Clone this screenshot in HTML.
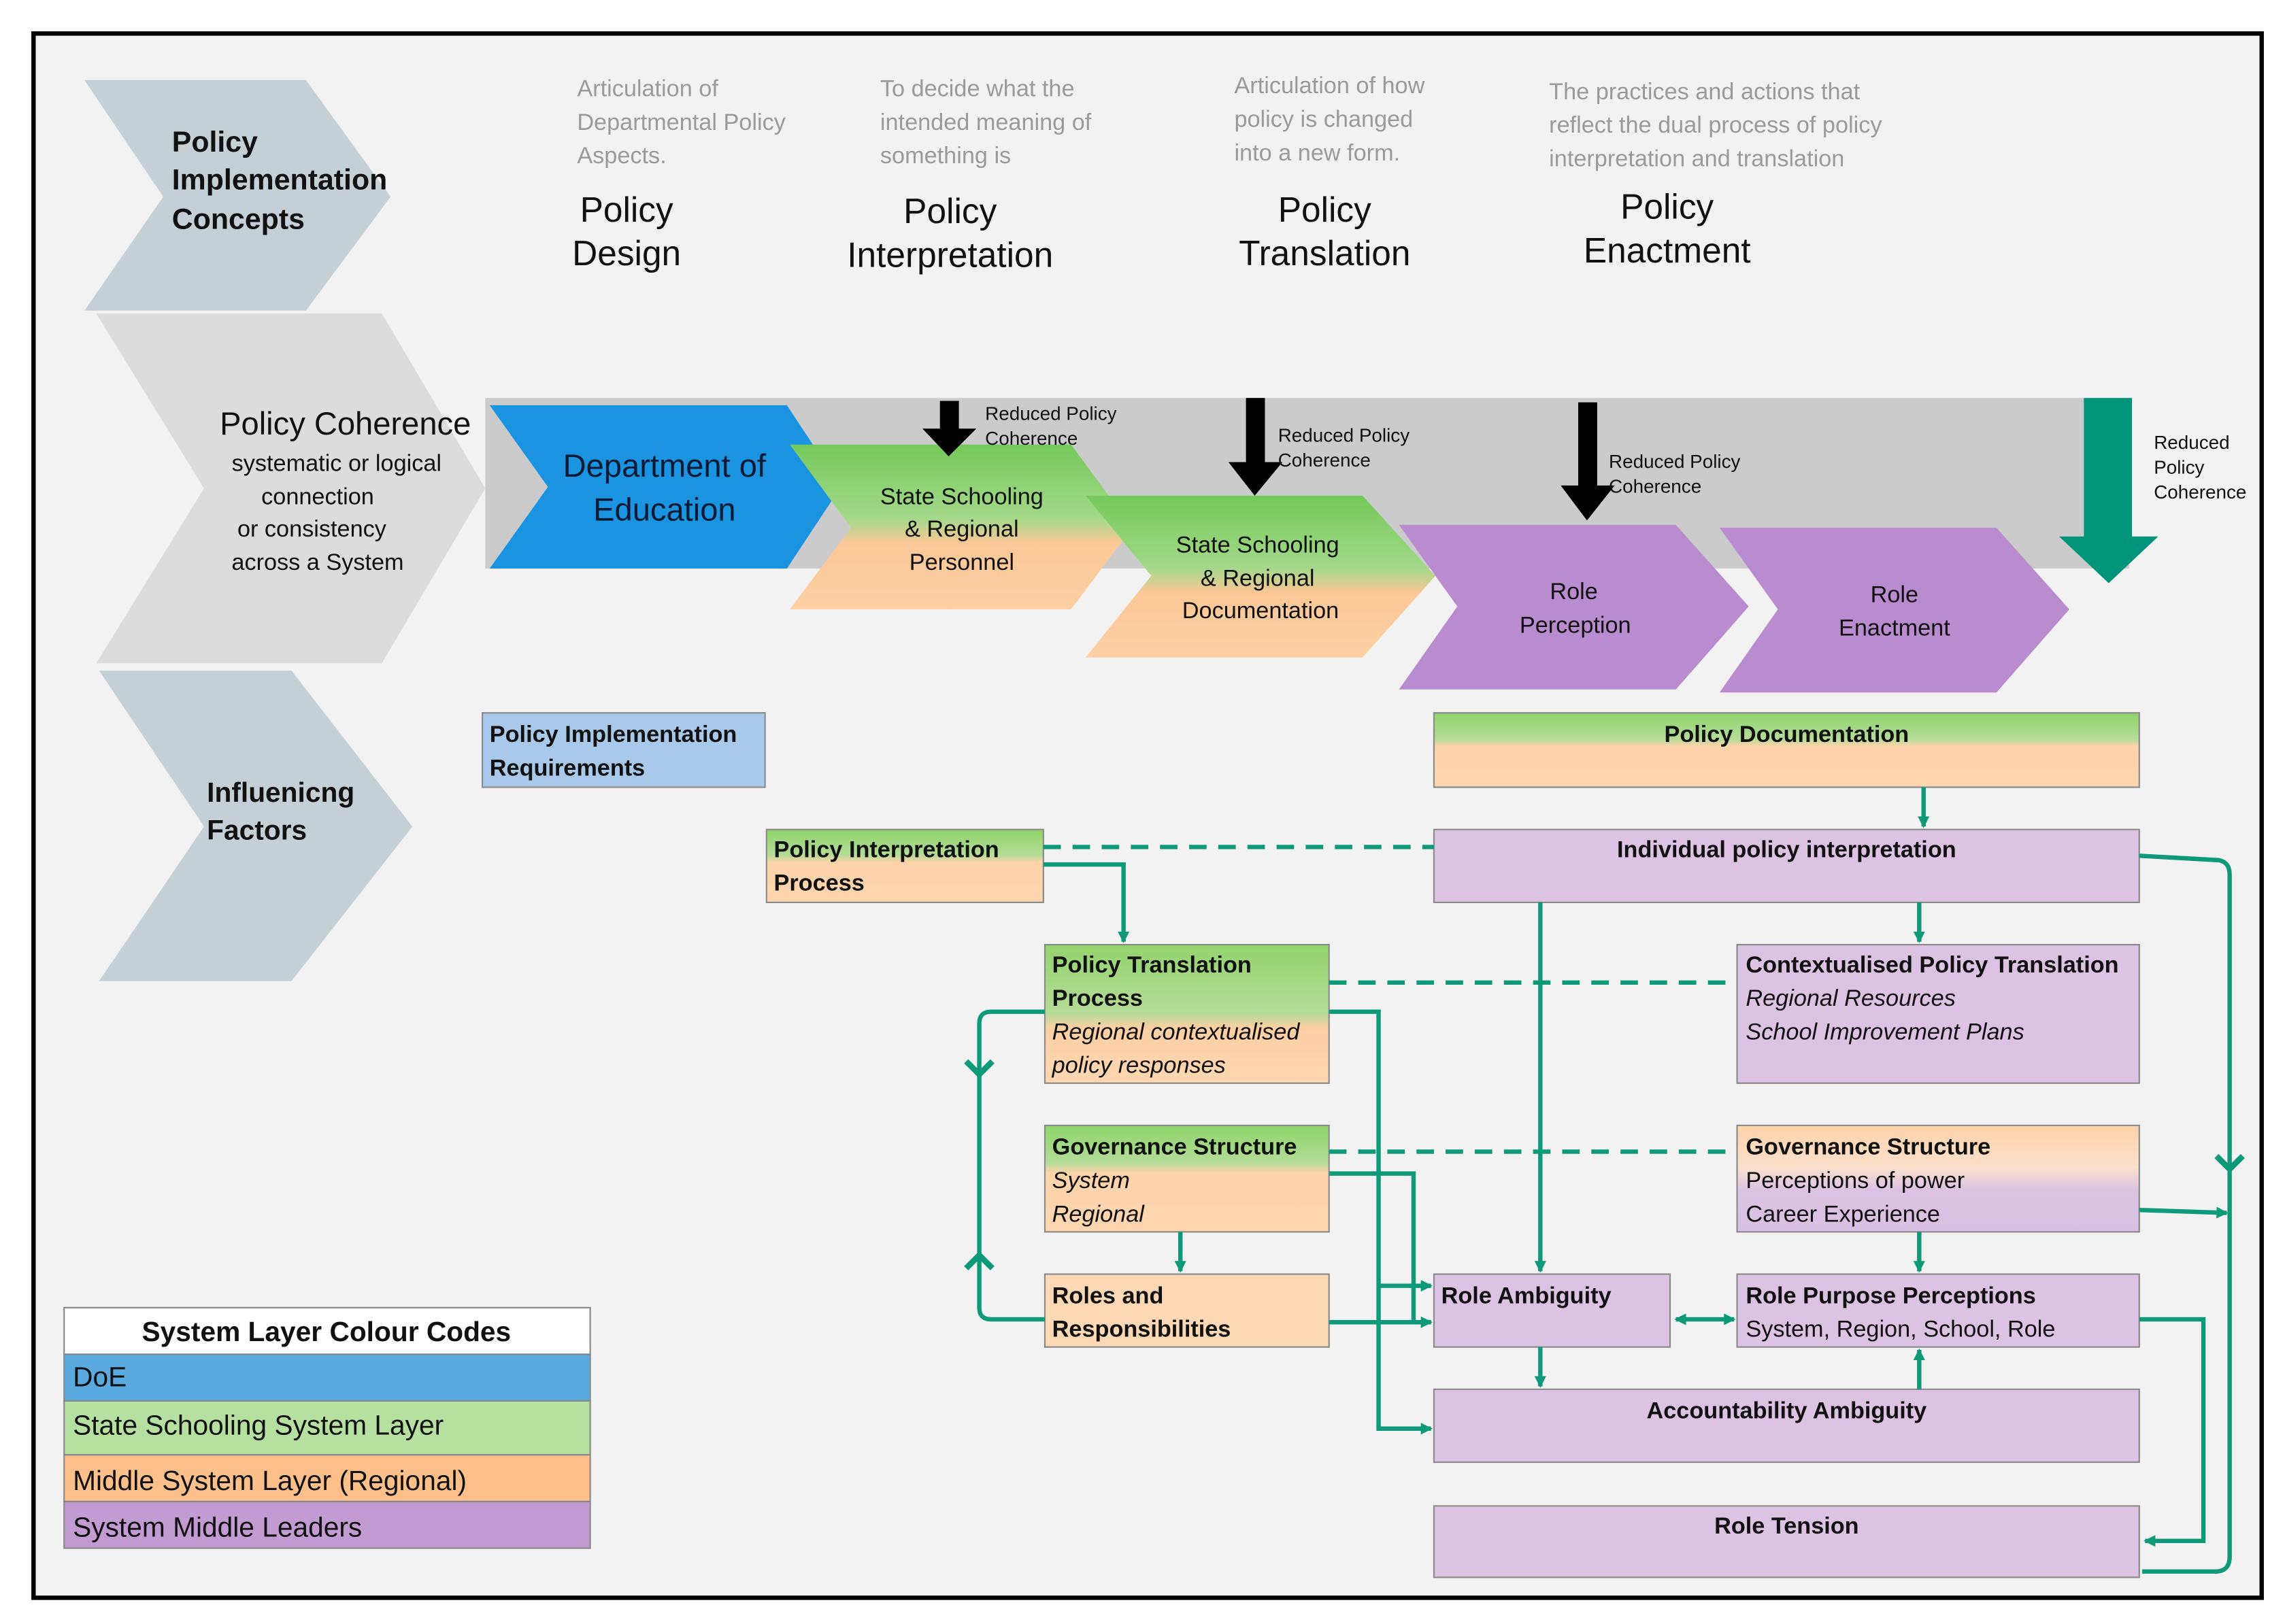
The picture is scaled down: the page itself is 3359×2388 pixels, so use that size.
<!DOCTYPE html>
<html><head><meta charset="utf-8"><style>
html,body{margin:0;padding:0;background:#fff}
svg{display:block}
text{font-family:"Liberation Sans",sans-serif}
</style></head><body>
<svg width="3359" height="2388" viewBox="0 0 1568 1114" preserveAspectRatio="none" xmlns="http://www.w3.org/2000/svg">
<defs>
<linearGradient id="go" x1="0" y1="0" x2="0" y2="1"><stop offset="0" stop-color="#93d36d"/><stop offset="0.5" stop-color="#b5dc98"/><stop offset="0.6" stop-color="#fdcfa4"/><stop offset="1" stop-color="#fdd7b2"/></linearGradient>
<linearGradient id="gob" x1="0" y1="0" x2="0" y2="1"><stop offset="0" stop-color="#8fd46a"/><stop offset="0.35" stop-color="#b3dc97"/><stop offset="0.45" stop-color="#fdd3aa"/><stop offset="1" stop-color="#fdd6b0"/></linearGradient>
<linearGradient id="gch" x1="0" y1="0" x2="0" y2="1"><stop offset="0" stop-color="#74c95a"/><stop offset="0.45" stop-color="#a4d98a"/><stop offset="0.6" stop-color="#fcc796"/><stop offset="1" stop-color="#fdd0a5"/></linearGradient>
<linearGradient id="op" x1="0" y1="0" x2="0" y2="1"><stop offset="0" stop-color="#fdd3aa"/><stop offset="0.4" stop-color="#fbe0cc"/><stop offset="0.6" stop-color="#dcc3e3"/><stop offset="1" stop-color="#d9bfe2"/></linearGradient>
<marker id="ar" markerWidth="8" markerHeight="8" refX="7" refY="4" orient="auto" markerUnits="userSpaceOnUse"><path d="M0,0 L8,4 L0,8 z" fill="#0e9a78"/></marker>
<marker id="as" markerWidth="8" markerHeight="8" refX="1" refY="4" orient="auto" markerUnits="userSpaceOnUse"><path d="M8,0 L0,4 L8,8 z" fill="#0e9a78"/></marker>
</defs>
<rect x="0" y="0" width="1568" height="1114" fill="#fff"/>
<rect x="23" y="23" width="1529" height="1073" fill="#f2f2f2" stroke="#000" stroke-width="3"/>

<!-- left chevrons -->
<polygon points="58,55 210,55 268,135 210,213 58,213 112,135" fill="#c5d0d6"/>
<text x="118" y="104" font-size="20" font-weight="bold" fill="#111">Policy</text>
<text x="118" y="130" font-size="20" font-weight="bold" fill="#111">Implementation</text>
<text x="118" y="157" font-size="20" font-weight="bold" fill="#111">Concepts</text>
<polygon points="66,215 262,215 333,335 262,455 66,455 140,335" fill="#dcdcdc"/>
<text x="237" y="298" font-size="22" text-anchor="middle" fill="#111">Policy Coherence</text>
<text x="231" y="323" font-size="16" text-anchor="middle" fill="#111">systematic or logical</text>
<text x="218" y="346" font-size="16" text-anchor="middle" fill="#111">connection</text>
<text x="214" y="368" font-size="16" text-anchor="middle" fill="#111">or consistency</text>
<text x="218" y="391" font-size="16" text-anchor="middle" fill="#111">across a System</text>
<polygon points="68,460 200,460 283,567 200,673 68,673 140,567" fill="#c5d0d6"/>
<text x="142" y="550" font-size="19" font-weight="bold" fill="#111">Influenicng</text>
<text x="142" y="576" font-size="19" font-weight="bold" fill="#111">Factors</text>

<!-- header columns -->
<g font-size="16" fill="#9a9a9a">
<text x="396" y="66">Articulation of</text><text x="396" y="89">Departmental Policy</text><text x="396" y="112">Aspects.</text>
<text x="604" y="66">To decide what the</text><text x="604" y="89">intended meaning of</text><text x="604" y="112">something is</text>
<text x="847" y="64">Articulation of how</text><text x="847" y="87">policy is changed</text><text x="847" y="110">into a new form.</text>
<text x="1063" y="68">The practices and actions that</text><text x="1063" y="91">reflect the dual process of policy</text><text x="1063" y="114">interpretation and translation</text>
</g>
<g font-size="24" fill="#111" text-anchor="middle">
<text x="430" y="152">Policy</text><text x="430" y="182">Design</text>
<text x="652" y="153">Policy</text><text x="652" y="183">Interpretation</text>
<text x="909" y="152">Policy</text><text x="909" y="182">Translation</text>
<text x="1144" y="150">Policy</text><text x="1144" y="180">Enactment</text>
</g>

<!-- band -->
<rect x="333" y="273" width="1128" height="117" fill="#cbcbcb"/>
<rect x="1430" y="273" width="33" height="96" fill="#00957a"/>
<polygon points="1413,368 1481,368 1447,400" fill="#00957a"/>
<text font-size="13" fill="#111"><tspan x="1478" y="308">Reduced</tspan><tspan x="1478" y="325">Policy</tspan><tspan x="1478" y="342">Coherence</tspan></text>

<polygon points="336,278 540,278 577,334 540,390 336,390 376,334" fill="#1a94e0"/>
<text x="456" y="327" font-size="22" text-anchor="middle" fill="#0d1a33">Department of</text>
<text x="456" y="357" font-size="22" text-anchor="middle" fill="#0d1a33">Education</text>

<polygon points="542,305 735,305 777,362 735,418 542,418 584,362" fill="url(#gch)"/>
<g font-size="16" text-anchor="middle" fill="#111"><text x="660" y="346">State Schooling</text><text x="660" y="368">&amp; Regional</text><text x="660" y="391">Personnel</text></g>
<polygon points="745,340 935,340 985,395 935,451 745,451 790,395" fill="url(#gch)"/>
<g font-size="16" text-anchor="middle" fill="#111"><text x="863" y="379">State Schooling</text><text x="863" y="402">&amp; Regional</text><text x="865" y="424">Documentation</text></g>
<polygon points="960,360 1150,360 1200,416 1150,473 960,473 1000,416" fill="#b98bcf"/>
<g font-size="16" text-anchor="middle" fill="#111"><text x="1080" y="411">Role</text><text x="1081" y="434">Perception</text></g>
<polygon points="1180,362 1370,362 1420,418 1370,475 1180,475 1220,418" fill="#b98bcf"/>
<g font-size="16" text-anchor="middle" fill="#111"><text x="1300" y="413">Role</text><text x="1300" y="436">Enactment</text></g>

<!-- black arrows -->
<rect x="645" y="275" width="13" height="20" fill="#000"/><polygon points="633,294 670,294 651,313" fill="#000"/>
<rect x="855" y="273" width="13" height="45" fill="#000"/><polygon points="843,317 880,317 861,340" fill="#000"/>
<rect x="1083" y="276" width="13" height="58" fill="#000"/><polygon points="1071,333 1108,333 1089,357" fill="#000"/>
<g font-size="13" fill="#111">
<text x="676" y="288">Reduced Policy</text><text x="676" y="305">Coherence</text>
<text x="877" y="303">Reduced Policy</text><text x="877" y="320">Coherence</text>
<text x="1104" y="321">Reduced Policy</text><text x="1104" y="338">Coherence</text>
</g>

<!-- boxes -->
<g stroke="#8a8a8a" stroke-width="1">
<rect x="331" y="489" width="194" height="51" fill="#a9c9ea"/>
<rect x="984" y="489" width="484" height="51" fill="url(#gob)"/>
<rect x="526" y="569" width="190" height="50" fill="url(#gob)"/>
<rect x="984" y="569" width="484" height="50" fill="#dcc3e3"/>
<rect x="717" y="648" width="195" height="95" fill="url(#go)"/>
<rect x="1192" y="648" width="276" height="95" fill="#dcc3e3"/>
<rect x="717" y="772" width="195" height="73" fill="url(#gob)"/>
<rect x="1192" y="772" width="276" height="73" fill="url(#op)"/>
<rect x="717" y="874" width="195" height="50" fill="#fdd8b5"/>
<rect x="984" y="874" width="162" height="50" fill="#dcc3e3"/>
<rect x="1192" y="874" width="276" height="50" fill="#dcc3e3"/>
<rect x="984" y="953" width="484" height="50" fill="#dcc3e3"/>
<rect x="984" y="1033" width="484" height="49" fill="#dcc3e3"/>
</g>
<g font-size="16" fill="#111">
<text x="336" y="509" font-weight="bold">Policy Implementation</text><text x="336" y="532" font-weight="bold">Requirements</text>
<text x="1226" y="509" font-weight="bold" text-anchor="middle">Policy Documentation</text>
<text x="531" y="588" font-weight="bold">Policy Interpretation</text><text x="531" y="611" font-weight="bold">Process</text>
<text x="1226" y="588" font-weight="bold" text-anchor="middle">Individual policy interpretation</text>
<text x="722" y="667" font-weight="bold">Policy Translation</text><text x="722" y="690" font-weight="bold">Process</text>
<text x="722" y="713" font-style="italic">Regional contextualised</text><text x="722" y="736" font-style="italic">policy responses</text>
<text x="1198" y="667" font-weight="bold">Contextualised Policy Translation</text>
<text x="1198" y="690" font-style="italic">Regional Resources</text><text x="1198" y="713" font-style="italic">School Improvement Plans</text>
<text x="722" y="792" font-weight="bold">Governance Structure</text><text x="722" y="815" font-style="italic">System</text><text x="722" y="838" font-style="italic">Regional</text>
<text x="1198" y="792" font-weight="bold">Governance Structure</text><text x="1198" y="815">Perceptions of power</text><text x="1198" y="838">Career Experience</text>
<text x="722" y="894" font-weight="bold">Roles and</text><text x="722" y="917" font-weight="bold">Responsibilities</text>
<text x="989" y="894" font-weight="bold">Role Ambiguity</text>
<text x="1198" y="894" font-weight="bold">Role Purpose Perceptions</text><text x="1198" y="917">System, Region, School, Role</text>
<text x="1226" y="973" font-weight="bold" text-anchor="middle">Accountability Ambiguity</text>
<text x="1226" y="1052" font-weight="bold" text-anchor="middle">Role Tension</text>
</g>

<!-- connectors -->
<g stroke="#0e9a78" stroke-width="3" fill="none">
<line x1="716" y1="581" x2="984" y2="581" stroke-dasharray="12,8"/>
<line x1="912" y1="674" x2="1192" y2="674" stroke-dasharray="12,8"/>
<line x1="912" y1="790" x2="1192" y2="790" stroke-dasharray="12,8"/>
<line x1="1320" y1="540" x2="1320" y2="567" marker-end="url(#ar)"/>
<polyline points="716,593 771,593 771,646" marker-end="url(#ar)"/>
<line x1="1057" y1="619" x2="1057" y2="872" marker-end="url(#ar)"/>
<line x1="1317" y1="619" x2="1317" y2="646" marker-end="url(#ar)"/>
<path d="M1468,587 L1522,590 Q1530,591 1530,600 L1530,1068 Q1530,1078 1520,1078 L1470,1078"/>
<polyline points="1468,830 1528,832" marker-end="url(#ar)"/>
<polyline points="1468,905 1512,905 1512,1057 1472,1057" marker-end="url(#ar)"/>
<path d="M717,694 L680,694 Q672,694 672,702 L672,897 Q672,905 680,905 L717,905"/>
<polyline points="912,694 946,694 946,980 982,980" marker-end="url(#ar)"/>
<line x1="946" y1="882" x2="982" y2="882" marker-end="url(#ar)"/>
<polyline points="912,805 970,805 970,907 982,907"/>
<line x1="810" y1="845" x2="810" y2="872" marker-end="url(#ar)"/>
<line x1="912" y1="907" x2="982" y2="907" marker-end="url(#ar)"/>
<line x1="1150" y1="905" x2="1190" y2="905" marker-start="url(#as)" marker-end="url(#ar)"/>
<line x1="1057" y1="924" x2="1057" y2="951" marker-end="url(#ar)"/>
<line x1="1317" y1="953" x2="1317" y2="926" marker-end="url(#ar)"/>
<line x1="1317" y1="845" x2="1317" y2="872" marker-end="url(#ar)"/>
<polyline points="663,728 672,737 681,728" stroke-width="4"/>
<polyline points="663,870 672,861 681,870" stroke-width="4"/>
<polyline points="1521,793 1530,802 1539,793" stroke-width="4"/>
</g>

<!-- legend -->
<g stroke="#888" stroke-width="1">
<rect x="44" y="897" width="361" height="32" fill="#fff"/>
<rect x="44" y="929" width="361" height="32" fill="#5aaadf"/>
<rect x="44" y="961" width="361" height="37" fill="#b6e0a0"/>
<rect x="44" y="998" width="361" height="32" fill="#fdc08a"/>
<rect x="44" y="1030" width="361" height="32" fill="#c39bd3"/>
</g>
<g font-size="19" fill="#111">
<text x="224" y="920" font-weight="bold" text-anchor="middle">System Layer Colour Codes</text>
<text x="50" y="951">DoE</text>
<text x="50" y="984">State Schooling System Layer</text>
<text x="50" y="1022">Middle System Layer  (Regional)</text>
<text x="50" y="1054">System Middle Leaders</text>
</g>
</svg>
</body></html>
